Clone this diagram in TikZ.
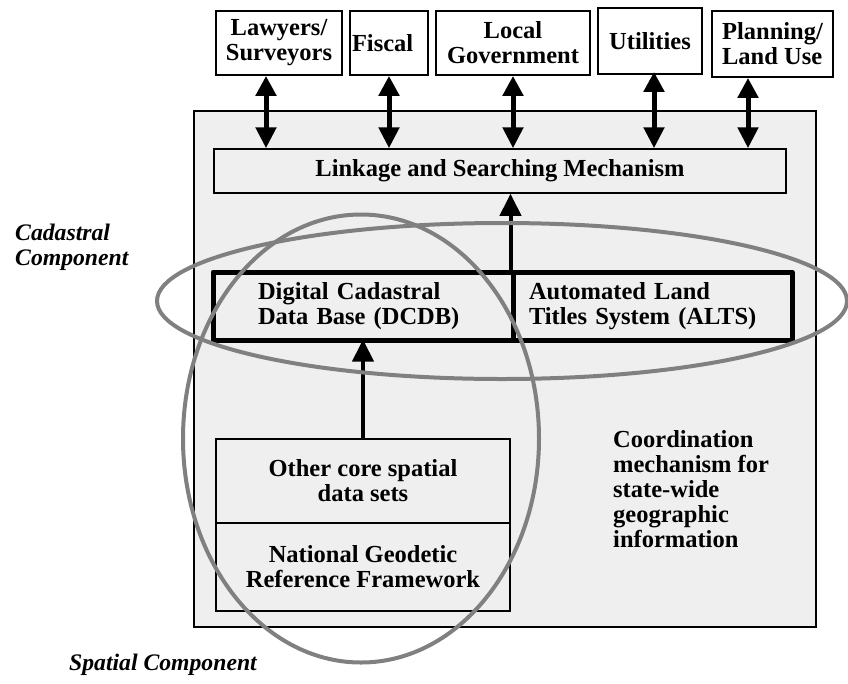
\documentclass[tikz,border=0pt]{standalone}
\usepackage{fontspec}
\setmainfont{Liberation Serif}
\usetikzlibrary{arrows.meta,calc}
\definecolor{panel}{RGB}{239,239,239}
\definecolor{ringgray}{RGB}{128,128,128}
\tikzset{
  txt/.style={font=\bfseries\fontsize{24.5pt}{25pt}\selectfont},
  itxt/.style={font=\bfseries\itshape\fontsize{23.7pt}{25pt}\selectfont, inner sep=0pt},
  topbox/.style={draw, line width=1.8pt, fill=white, inner sep=0pt, txt, align=center},
  panelbox/.style={draw, line width=1.5pt, fill=panel, inner sep=0pt, txt, align=center},
  thickbox/.style={draw, line width=5pt, line join=round, fill=panel, inner sep=0pt, txt, align=left},
  bidir/.style={line width=5pt, {Triangle[length=20pt,width=20pt]}-{Triangle[length=21pt,width=20pt]}},
  uparrow/.style={line width=4pt, -{Triangle[length=22pt,width=21pt]}},
  ring/.style={draw=ringgray, line width=4pt}
}
\begin{document}
\begin{tikzpicture}[x=1pt,y=-1pt]
\useasboundingbox (0,0) rectangle (848,683);

% main panel
\node[draw, line width=2pt, fill=panel, minimum width=622pt, minimum height=516pt, inner sep=0pt] (main) at (505,369) {};

% top boxes
\node[topbox, minimum width=126pt, minimum height=64pt] (lawyers) at (279,43) {Lawyers/\\Surveyors};
\node[topbox, minimum width=78pt, minimum height=64pt, text width=74pt, align=left] (fiscal) at (389,43) {Fiscal};
\node[topbox, minimum width=154pt, minimum height=64pt] (local) at (513,43) {Local\\Government};
\node[topbox, minimum width=104pt, minimum height=66pt] (utilities) at (650,41) {Utilities};
\node[topbox, minimum width=121pt, minimum height=66pt, align=left] (planning) at (772.5,44) {Planning/\\Land Use};

% linkage
\node[panelbox, minimum width=572pt, minimum height=44pt] (linkage) at (500,171) {Linkage and Searching Mechanism};

% cadastral boxes
\node[thickbox, minimum width=300pt, minimum height=68pt, text width=210pt] (dcdb) at (363,306) {Digital Cadastral\\Data Base (DCDB)};
\node[thickbox, minimum width=279pt, minimum height=68pt, text width=247pt] (alts) at (652.5,306) {Automated Land\\Titles System (ALTS)};

% spatial boxes
\node[panelbox, minimum width=294pt, minimum height=84pt] (other) at (363,481) {Other core spatial\\data sets};
\node[panelbox, minimum width=294pt, minimum height=88pt] (geodetic) at (363,567) {National Geodetic\\Reference Framework};

% coordination text
\node[txt, inner sep=0pt, align=left, anchor=north west] (coord) at (613,430.5) {Coordination\\mechanism for\\state-wide\\geographic\\information};

% side labels
\node[itxt, align=left, anchor=north west] (cadlabel) at (15,224) {Cadastral\\Component};
\node[itxt, anchor=base east] (spatlabel) at (257,670) {Spatial Component};

% arrow positions
\coordinate (xa) at (266,0);
\coordinate (xb) at (389,0);
\coordinate (xc) at (513,0);
\coordinate (xd) at (654,0);
\coordinate (xe) at (748,0);

\draw[bidir] (lawyers.south -| xa) -- (linkage.north -| xa);
\draw[bidir] (fiscal.south -| xb) -- (linkage.north -| xb);
\draw[bidir] (local.south -| xc) -- (linkage.north -| xc);
\draw[bidir] ([yshift=3pt]utilities.south -| xd) -- (linkage.north -| xd);
\draw[bidir] (planning.south -| xe) -- (linkage.north -| xe);

\draw[uparrow] (alts.north west) -- (linkage.south -| alts.north west);
\draw[uparrow] (other.north) -- ([yshift=3pt]dcdb.south -| other.north);

% rings
\draw[ring] (502,301) ellipse [x radius=345pt, y radius=78pt];
\draw[ring] (361,438.5) ellipse [x radius=178pt, y radius=224pt];
\end{tikzpicture}
\end{document}
